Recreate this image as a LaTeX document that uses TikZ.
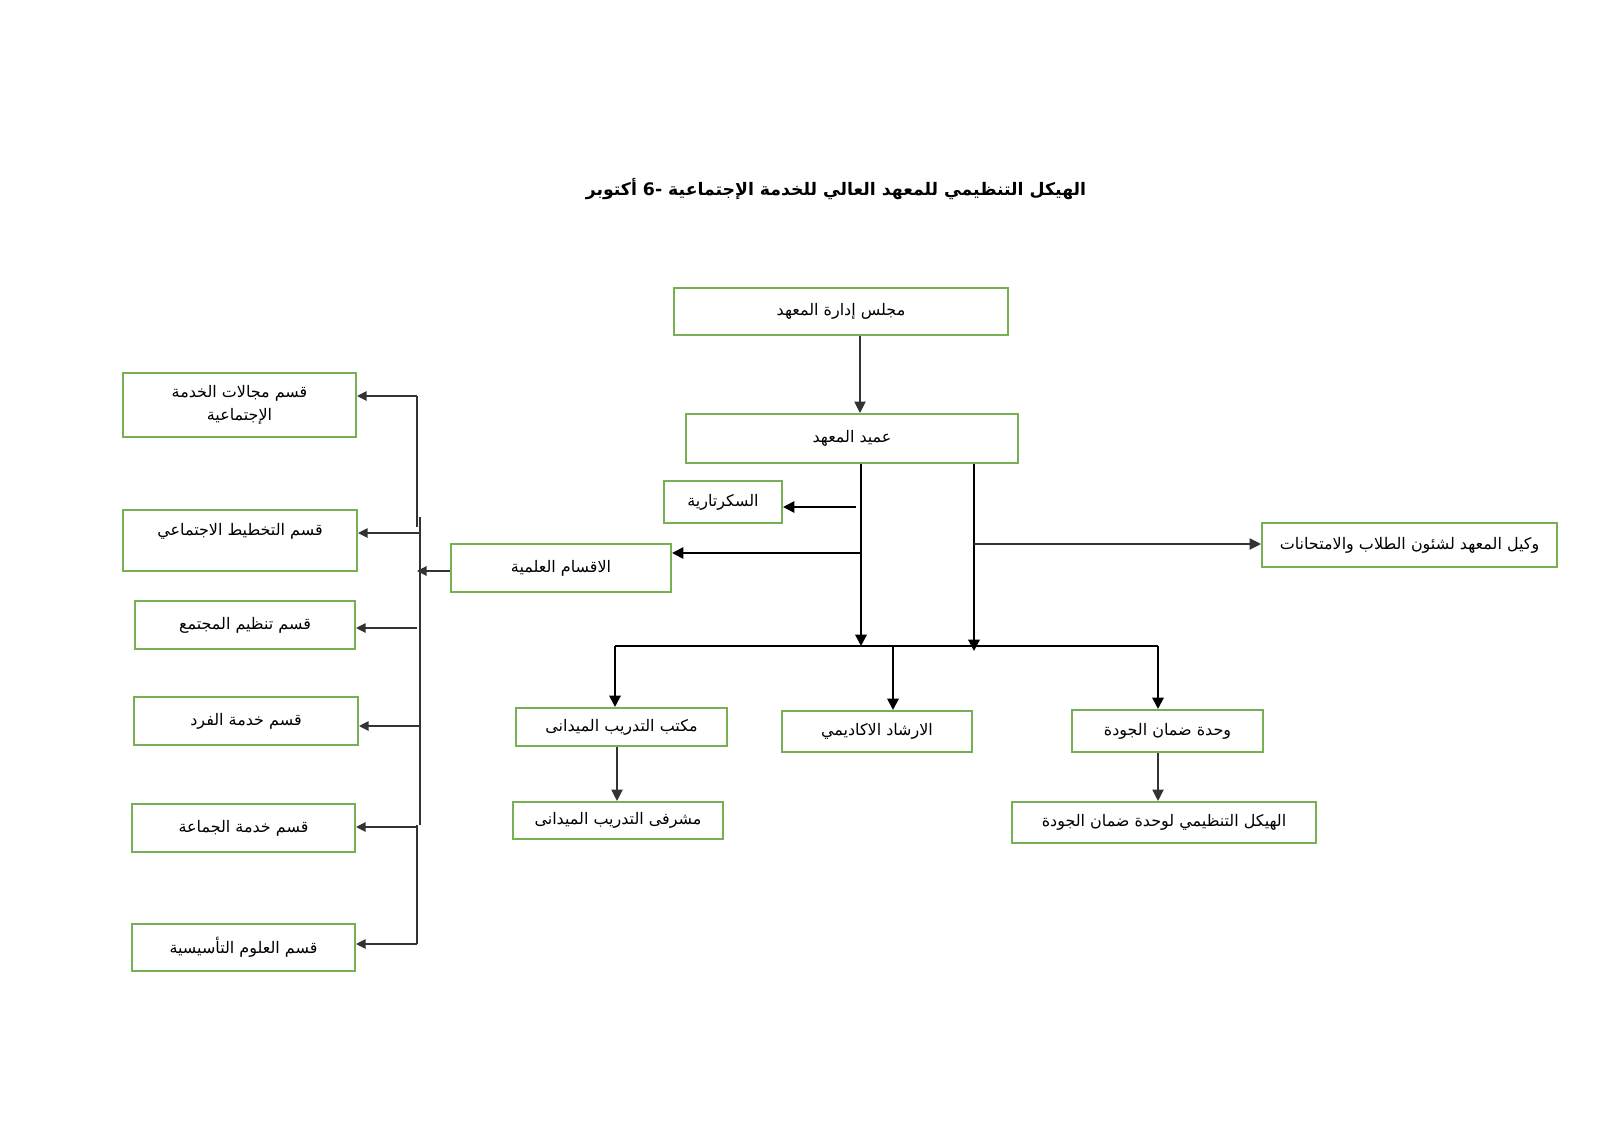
\documentclass[tikz,border=0pt]{standalone}
\usepackage{fontspec}
\usetikzlibrary{arrows.meta,calc}
\TeXXeTstate=1
\newfontfamily\arabicfont[Script=Arabic]{DejaVu Sans}
\newcommand\ar[1]{{\arabicfont\beginR #1\endR}}
\definecolor{boxgreen}{RGB}{119,176,83}
\begin{document}
\begin{tikzpicture}[x=0.52625pt,y=-0.52625pt,
  bx/.style 2 args={draw=boxgreen,line width=1.1pt,minimum width=#1*0.52625pt,minimum height=#2*0.52625pt,inner sep=0pt,align=center,font=\fontsize{8.4}{12.3}\selectfont\arabicfont},
  arr/.style={-{Triangle[length=6pt,width=6pt]},line width=1.1pt},
  thinln/.style={line width=0.6pt,draw=black!80},
  tarr/.style={thinln,-{Triangle[length=5pt,width=5pt]}}]
\useasboundingbox[fill=white] (0,0) rectangle (1600,1131);

% title
\node[font=\fontsize{9.1}{12}\selectfont\arabicfont\bfseries] (title) at (836,189)
  {\beginR الهيكل التنظيمي للمعهد العالي للخدمة الإجتماعية \hbox{-}\hbox{6} أكتوبر\endR};

% centre boxes
\node[bx={334}{47}] (majlis) at (841,311.5) {\ar{مجلس إدارة المعهد}};
\node[bx={332}{49}] (amid) at (852,438.5) {\ar{عميد المعهد}};
\node[bx={118}{42}] (sec) at (723,502) {\ar{السكرتارية}};
\node[bx={220}{48}] (aqsam) at (561,568) {\ar{الاقسام العلمية}};
\node[bx={295}{44}] (wakil) at (1409.5,545) {\ar{وكيل المعهد لشئون الطلاب والامتحانات}};
\node[bx={211}{38}] (maktab) at (621.5,727) {\ar{مكتب التدريب الميدانى}};
\node[bx={190}{41}] (irshad) at (877,731.5) {\ar{الارشاد الاكاديمي}};
\node[bx={191}{42}] (wahda) at (1167.5,731) {\ar{وحدة ضمان الجودة}};
\node[bx={210}{37}] (mushrif) at (618,820.5) {\ar{مشرفى التدريب الميدانى}};
\node[bx={304}{41}] (haykal) at (1164,822.5) {\ar{الهيكل التنظيمي لوحدة ضمان الجودة}};

% left departments
\node[bx={233}{64}] (L1) at (239.5,405) {\ar{قسم مجالات الخدمة}\\\ar{الإجتماعية}};
\node[bx={234}{61},text height=7pt,text depth=12pt] (L2) at (240,540.5) {\ar{قسم التخطيط الاجتماعي}};
\node[bx={220}{48}] (L3) at (245,625) {\ar{قسم تنظيم المجتمع}};
\node[bx={224}{48}] (L4) at (246,721) {\ar{قسم خدمة الفرد}};
\node[bx={223}{48}] (L5) at (243.5,828) {\ar{قسم خدمة الجماعة}};
\node[bx={223}{47}] (L6) at (243.5,947.5) {\ar{قسم العلوم التأسيسية}};

% coordinates
\coordinate (cM) at (860,0);
\coordinate (cT1) at (861,0);
\coordinate (cT2) at (974,0);
\coordinate (busL) at (861,646);
\coordinate (busR) at (974,651);
\coordinate (sS) at (856,507);
\coordinate (aS) at (861,553);
\coordinate (wS) at (974,544);
\coordinate (b1) at (615,646);
\coordinate (b2) at (893,646);
\coordinate (b3) at (1158,646);
\coordinate (cK) at (617,0);
\coordinate (cH) at (1158,0);
\coordinate (lb) at (417,571);
\coordinate (l1) at (417,396);
\coordinate (l2) at (420,533);
\coordinate (l3) at (417,628);
\coordinate (l4) at (420,726);
\coordinate (l5) at (417,827);
\coordinate (l6) at (417,944);

% connectors
\draw[thinln,-{Triangle[length=6pt,width=6pt]}] (majlis.south -| cM) -- (amid.north -| cM);
\draw[arr] (amid.south -| cT1) -- (busL);
\draw[arr] (amid.south -| cT2) -- (busR);
\draw[arr] (sS) -- (sS -| sec.east);
\draw[arr] (aS) -- (aS -| aqsam.east);
\draw[thinln,-{Triangle[length=6pt,width=6pt]}] (wS) -- (wS -| wakil.west);
\draw[line width=0.8pt] (b1) -- (b3);
\draw[arr] (b1) -- (b1 |- maktab.north);
\draw[arr] (b2) -- (b2 |- irshad.north);
\draw[arr] (b3) -- (b3 |- wahda.north);
\draw[thinln,-{Triangle[length=6pt,width=6pt]}] (maktab.south -| cK) -- (mushrif.north -| cK);
\draw[thinln,-{Triangle[length=6pt,width=6pt]}] (wahda.south -| cH) -- (haykal.north -| cH);

% left bus
\draw[tarr] (lb -| aqsam.west) -- (lb);
\draw[thinln] (l1) -- (417,527);
\draw[thinln] (420,517) -- (420,825);
\draw[thinln] (417,825) -- (l6);
\draw[tarr] (l1) -- (l1 -| L1.east);
\draw[tarr] (l2) -- (l2 -| L2.east);
\draw[tarr] (l3) -- (l3 -| L3.east);
\draw[tarr] (l4) -- (l4 -| L4.east);
\draw[tarr] (l5) -- (l5 -| L5.east);
\draw[tarr] (l6) -- (l6 -| L6.east);
\end{tikzpicture}
\end{document}
